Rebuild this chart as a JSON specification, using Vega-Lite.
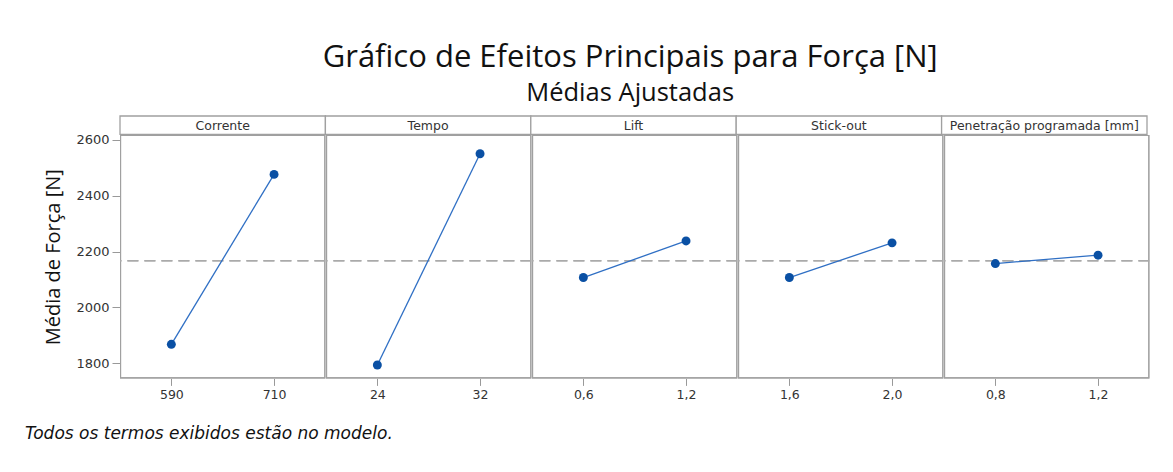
{
  "$schema": "https://vega.github.io/schema/vega-lite/v6.json",
  "background": "white",
  "padding": {"left": 24, "top": 41, "right": 5, "bottom": 5},
  "config": {
    "font": "Open Sans",
    "view": {"stroke": null},
    "concat": {"spacing": 0},
    "facet": {"spacing": 0}
  },
  "title": {
    "text": "Gráfico de Efeitos Principais para Força [N]",
    "subtitle": "Médias Ajustadas",
    "fontSize": 31,
    "fontWeight": "normal",
    "subtitleFontSize": 25.5,
    "color": "#111",
    "subtitleColor": "#111",
    "anchor": "middle",
    "dx": 43,
    "subtitlePadding": 7,
    "offset": 8
  },
  "datasets": {
    "fatores": [
      {"fator": "Corrente"},
      {"fator": "Tempo"},
      {"fator": "Lift"},
      {"fator": "Stick-out"},
      {"fator": "Penetração programada [mm]"}
    ],
    "efeitos": [
      {"fator": "Corrente", "nivel": "590", "forca": 1868},
      {"fator": "Corrente", "nivel": "710", "forca": 2476},
      {"fator": "Tempo", "nivel": "24", "forca": 1794},
      {"fator": "Tempo", "nivel": "32", "forca": 2550},
      {"fator": "Lift", "nivel": "0,6", "forca": 2107},
      {"fator": "Lift", "nivel": "1,2", "forca": 2238},
      {"fator": "Stick-out", "nivel": "1,6", "forca": 2107},
      {"fator": "Stick-out", "nivel": "2,0", "forca": 2231},
      {"fator": "Penetração programada [mm]", "nivel": "0,8", "forca": 2157},
      {"fator": "Penetração programada [mm]", "nivel": "1,2", "forca": 2187}
    ]
  },
  "bounds": "flush",
  "spacing": 0,
  "vconcat": [
    {
      "data": {"name": "fatores"},
      "width": 1027,
      "height": 18.3,
      "encoding": {
        "x": {
          "field": "fator",
          "type": "nominal",
          "sort": ["Corrente", "Tempo", "Lift", "Stick-out", "Penetração programada [mm]"],
          "scale": {"paddingInner": 0, "paddingOuter": 0},
          "axis": null
        }
      },
      "layer": [
        {"mark": {"type": "rect", "fill": "white", "stroke": "#a0a0a0", "strokeWidth": 1.3}},
        {
          "mark": {"type": "text", "fontSize": 12.5, "font": "DejaVu Sans", "color": "#333", "dy": 0.5},
          "encoding": {"text": {"field": "fator"}}
        }
      ]
    },
    {
      "data": {"name": "efeitos"},
      "bounds": "flush",
      "title": {
        "text": "Todos os termos exibidos estão no modelo.",
        "orient": "bottom",
        "anchor": "start",
        "frame": "bounds",
        "font": "DejaVu Sans",
        "fontSize": 17,
        "fontStyle": "italic",
        "fontWeight": "normal",
        "color": "#111",
        "offset": 25,
        "dx": -19
      },
      "facet": {
        "column": {
          "field": "fator",
          "sort": ["Corrente", "Tempo", "Lift", "Stick-out", "Penetração programada [mm]"],
          "header": {"labels": false, "title": null}
        }
      },
      "spacing": 0,
      "resolve": {"scale": {"x": "independent"}, "axis": {"x": "independent"}},
      "spec": {
        "width": 205.4,
        "height": 243.4,
        "encoding": {
          "x": {
            "field": "nivel",
            "type": "ordinal",
            "sort": null,
            "scale": {"type": "point", "padding": 0.5},
            "axis": {
              "title": null,
              "labelAngle": 0,
              "domain": false,
              "tickColor": "#999",
              "tickSize": 7,
              "labelFont": "DejaVu Sans",
              "labelFontSize": 12.5,
              "labelColor": "#333",
              "labelPadding": 3
            }
          },
          "y": {
            "field": "forca",
            "type": "quantitative",
            "scale": {"domain": [1746, 2617], "nice": false, "zero": false},
            "axis": {
              "title": "Média de Força [N]",
              "values": [1800, 2000, 2200, 2400, 2600],
              "format": "d",
              "grid": false,
              "domain": false,
              "tickColor": "#999",
              "tickSize": 8,
              "labelFont": "DejaVu Sans",
              "labelFontSize": 13,
              "labelColor": "#333",
              "labelPadding": 3,
              "titleFontSize": 20,
              "titleFontWeight": "normal",
              "titleColor": "#111",
              "titlePadding": 12
            }
          }
        },
        "layer": [
          {
            "mark": {"type": "rect", "fill": "transparent", "stroke": "#a0a0a0", "strokeWidth": 2.2, "clip": true},
            "encoding": {"x": null, "y": null}
          },
          {
            "mark": {"type": "rule", "strokeDash": [11, 6], "color": "#aaaaaa", "strokeWidth": 1.5, "clip": true},
            "encoding": {"y": {"datum": 2167}, "x": null}
          },
          {
            "mark": {"type": "line", "color": "#2f6fc4", "strokeWidth": 1.3}
          },
          {
            "mark": {"type": "point", "filled": true, "size": 80, "color": "#0a50a4", "opacity": 1}
          }
        ]
      }
    }
  ]
}
